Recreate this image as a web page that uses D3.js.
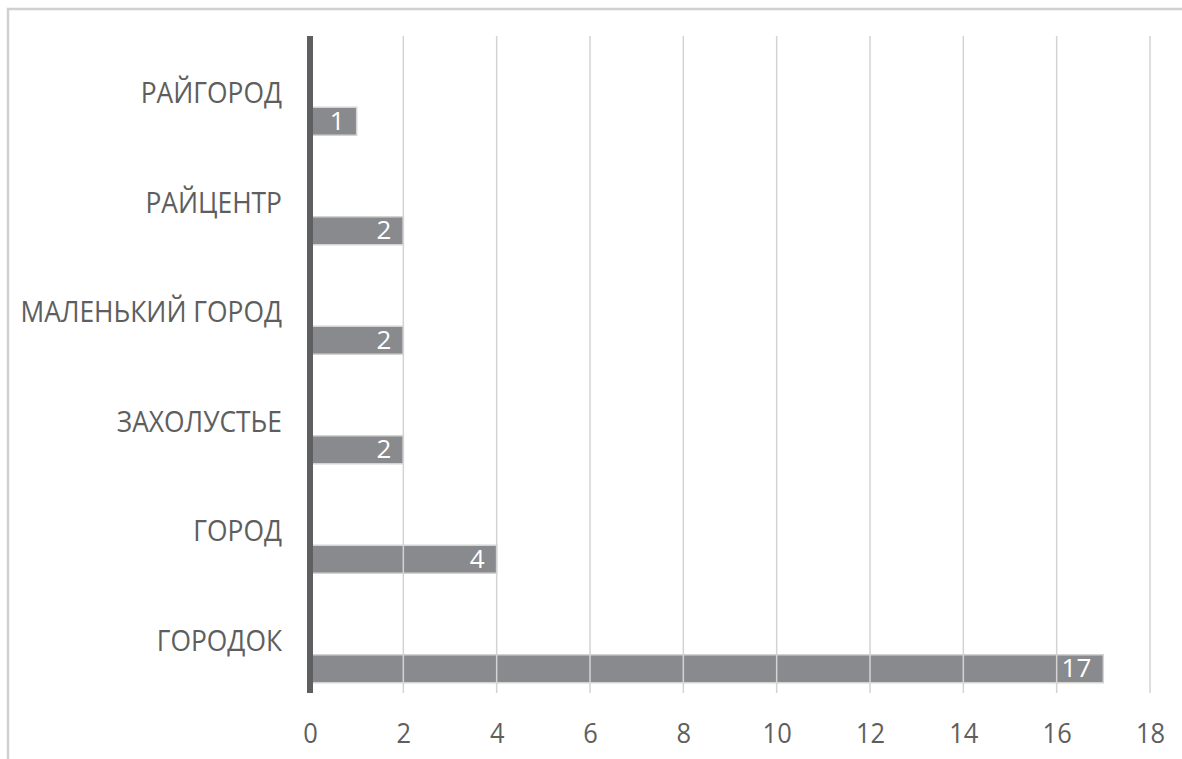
<!DOCTYPE html>
<html><head><meta charset="utf-8">
<script src="https://cdn.jsdelivr.net/npm/d3@7"></script>
<style>
html,body{margin:0;padding:0;background:#fff;overflow:hidden}
text{font-family:"Open Sans",sans-serif;font-weight:400}
</style></head>
<body>
<svg id="c" width="1182" height="759"></svg>
<script>
const categories = ["РАЙГОРОД","РАЙЦЕНТР","МАЛЕНЬКИЙ ГОРОД","ЗАХОЛУСТЬЕ","ГОРОД","ГОРОДОК"];
const values = [1,2,2,2,4,17];
const xTicks = [0,2,4,6,8,10,12,14,16,18];

const svg = d3.select("#c");
// outer frame
svg.append("rect").attr("x",8).attr("y",9).attr("width",1200).attr("height",800)
  .attr("fill","none").attr("stroke","#d0d0d0").attr("stroke-width",2.5);

const plotTop = 36, plotBottom = 693;
const x = d3.scaleLinear().domain([0,18]).range([310,1150]);
const y = d3.scaleBand().domain(categories).range([plotTop,plotBottom]);
const sx = 0.91;

// bars
const barOff = 16.5, barH = 28;
svg.selectAll("rect.bar").data(categories).enter().append("rect")
  .attr("class","bar")
  .attr("x",x(0))
  .attr("y",d=>y(d)+y.bandwidth()/2+barOff)
  .attr("width",(d,i)=>x(values[i])-x(0))
  .attr("height",barH)
  .attr("fill","#898a8e").attr("stroke","#d4d4d4").attr("stroke-width",1.5);

// gridlines (drawn over bars)
svg.selectAll("line.grid").data(xTicks.slice(1)).enter().append("line")
  .attr("x1",d=>x(d)).attr("x2",d=>x(d)).attr("y1",plotTop).attr("y2",plotBottom)
  .attr("stroke","#d3d3d3").attr("stroke-width",1.5);

// axis line
svg.append("line").attr("x1",x(0)).attr("x2",x(0)).attr("y1",plotTop).attr("y2",plotBottom)
  .attr("stroke","#5f5f61").attr("stroke-width",6);

// x tick labels
const xAxis = d3.axisBottom(x).tickValues(xTicks).tickSize(0).tickPadding(0);
const gx = svg.append("g").attr("transform",`translate(0,${plotBottom})`).call(xAxis);
gx.select(".domain").remove();
gx.selectAll("text").attr("y",0).attr("dy",null)
  .attr("transform",`translate(0,50) scale(${sx},1)`)
  .attr("fill","#5e5e5e")
  .style("font-size","28px").style("font-family","'Open Sans',sans-serif").style("font-weight","400");

// category labels
svg.selectAll("text.cat").data(categories).enter().append("text")
  .attr("class","cat")
  .attr("transform",d=>`translate(282,${y(d)+y.bandwidth()/2+12.5}) scale(${sx},1)`)
  .attr("text-anchor","end")
  .attr("fill","#5e5e5e").style("font-size","29px")
  .text(d=>d);

// value labels
svg.selectAll("text.val").data(categories).enter().append("text")
  .attr("class","val")
  .attr("x",(d,i)=>x(values[i])-12)
  .attr("y",d=>y(d)+y.bandwidth()/2+barOff+barH/2)
  .attr("dy","0.33em").attr("text-anchor","end")
  .attr("fill","#ffffff").style("font-size","26px")
  .text((d,i)=>values[i]);
</script>
</body></html>
